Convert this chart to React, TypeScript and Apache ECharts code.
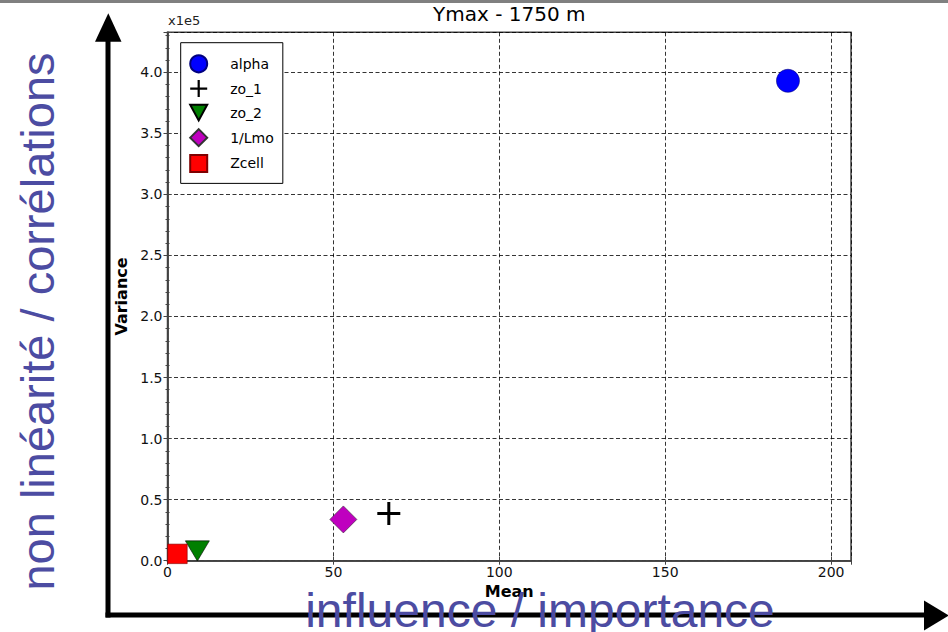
import React, { useEffect, useRef } from "react";
import * as echarts from "echarts";

// ---- data ----
const seriesNames = ["alpha", "zo_1", "zo_2", "1/Lmo", "Zcell"];
const meanValues = [187, 66.7, 9.0, 53.0, 3.0];
const varianceValues = [393000, 38700, 8000, 33800, 5600];
const xTickValues = [0, 50, 100, 150, 200];
const yTickValues = [0, 50000, 100000, 150000, 200000, 250000, 300000, 350000, 400000];
const xMax = 206;
const yMax = 432700;
const titleText = "Ymax - 1750 m";
const xAxisName = "Mean";
const yAxisName = "Variance";
const scaleText = "x1e5";
const bigYText = "non linéarité / corrélations";
const bigXText = "influence / importance";

const seriesStyles = [
  { symbol: "circle", size: 23, color: "#0000ff", border: "#00007f" },
  { symbol: "path://M10,0h3v23h-3zM0,10h23v3h-23z", size: 23, color: "#000000", border: "#000000" },
  { symbol: "path://M0,0L24,0L12,22Z", size: [24, 22], color: "#007f00", border: "#000000" },
  { symbol: "diamond", size: 27, color: "#bf00bf", border: "#333333" },
  { symbol: "rect", size: 19.5, color: "#ff0000", border: "#7f0000" },
];

const FONT = "DejaVu Sans";
const BIG_FONT = "Liberation Sans";
const BLUE = "#4c4ca2";

export default function App() {
  const ref = useRef<HTMLDivElement>(null);
  useEffect(() => {
    if (!ref.current) return;
    const chart = echarts.init(ref.current, null, { renderer: "svg" });
    const isTick = (arr: number[], v: number) => arr.some((t) => Math.abs(t - v) < 1e-6);
    const axisLineStyle = { color: "#444", width: 1.5 };
    const splitStyle = { color: "#000", width: 0.8, type: [4, 2.5] as any };

    const series = seriesNames.map((name, i) => ({
      name,
      type: "scatter",
      data: [[meanValues[i], varianceValues[i]]],
      symbol: seriesStyles[i].symbol,
      symbolSize: seriesStyles[i].size,
      symbolKeepAspect: true,
      itemStyle: {
        color: seriesStyles[i].color,
        borderColor: seriesStyles[i].border,
        borderWidth: i === 1 ? 0 : 0.6,
        opacity: 1,
      },
      z: 3,
    }));

    const option: any = {
      animation: false,
      backgroundColor: "#ffffff",
      grid: {
        left: 167.5,
        right: 97,
        top: 32.3,
        bottom: 71.3,
        show: true,
        backgroundColor: "#ffffff",
        borderColor: "#444",
        borderWidth: 1.5,
      },
      legend: {
        orient: "vertical",
        left: 180.7,
        top: 42.7,
        itemWidth: 17,
        itemHeight: 17,
        itemGap: 6.75,
        padding: [11.6, 9, 10.5, 8.5],
        backgroundColor: "#ffffff",
        borderColor: "#000",
        borderWidth: 1,
        borderRadius: 0,
        textStyle: { fontFamily: FONT, fontSize: 14, color: "#000", padding: [0, 0, 0, 18] },
        data: seriesNames,
      },
      xAxis: [
        {
          type: "value",
          min: 0,
          max: xMax,
          interval: 50,
          position: "bottom",
          name: xAxisName,
          nameLocation: "middle",
          nameGap: 21,
          nameTextStyle: { fontFamily: FONT, fontSize: 16, fontWeight: "bold", color: "#000" },
          axisLine: { show: true, lineStyle: axisLineStyle },
          axisTick: { show: true, inside: true, length: 4, lineStyle: { color: "#444" } },
          axisLabel: {
            margin: 4,
            fontFamily: FONT,
            fontSize: 14,
            color: "#111",
            formatter: (v: number) => (isTick(xTickValues, v) ? String(v) : ""),
          },
          splitLine: { show: true, lineStyle: splitStyle },
        },
        {
          type: "value",
          min: 0,
          max: xMax,
          interval: 50,
          position: "top",
          axisLine: { show: true, lineStyle: axisLineStyle },
          axisTick: { show: true, inside: true, length: 4, lineStyle: { color: "#444" } },
          axisLabel: { show: false },
          splitLine: { show: false },
        },
      ],
      yAxis: [
        {
          type: "value",
          min: 0,
          max: yMax,
          interval: 50000,
          position: "left",
          name: yAxisName,
          nameLocation: "middle",
          nameRotate: 90,
          nameGap: 34,
          nameTextStyle: { fontFamily: FONT, fontSize: 16, fontWeight: "bold", color: "#000" },
          axisLine: { show: true, lineStyle: axisLineStyle },
          axisTick: { show: true, inside: true, length: 4, lineStyle: { color: "#444" } },
          minorTick: { show: true, splitNumber: 5, length: 2, lineStyle: { color: "#444" } },
          axisLabel: {
            margin: 5,
            fontFamily: FONT,
            fontSize: 14,
            color: "#111",
            formatter: (v: number) => (isTick(yTickValues, v) ? (v / 1e5).toFixed(1) : ""),
          },
          splitLine: { show: true, lineStyle: splitStyle },
        },
        {
          type: "value",
          min: 0,
          max: yMax,
          interval: 50000,
          position: "right",
          axisLine: { show: true, lineStyle: axisLineStyle },
          axisTick: { show: true, inside: true, length: 4, lineStyle: { color: "#444" } },
          minorTick: { show: true, splitNumber: 5, length: 2, lineStyle: { color: "#444" } },
          axisLabel: { show: false },
          splitLine: { show: false },
        },
      ],
      series,
      graphic: [
        { type: "rect", shape: { x: 0, y: 0, width: 948, height: 3 }, style: { fill: "#808080" }, z: 10 },
        {
          type: "text",
          x: 509.3,
          y: 13.5,
          style: { text: titleText, fontFamily: FONT, fontSize: 20, fill: "#000", align: "center", verticalAlign: "middle" },
          z: 10,
        },
        {
          type: "text",
          x: 168,
          y: 20,
          style: { text: scaleText, fontFamily: FONT, fontSize: 13, fill: "#222", align: "left", verticalAlign: "middle" },
          z: 10,
        },
        // big arrows
        { type: "line", shape: { x1: 108, y1: 617.5, x2: 108, y2: 38 }, style: { stroke: "#000", lineWidth: 5 }, z: 10 },
        { type: "polygon", shape: { points: [[95, 41.7], [121.5, 41.7], [108.3, 13.3]] }, style: { fill: "#000" }, z: 10 },
        { type: "line", shape: { x1: 105.5, y1: 615, x2: 926, y2: 615 }, style: { stroke: "#000", lineWidth: 5 }, z: 10 },
        { type: "polygon", shape: { points: [[924, 600.5], [924, 630.5], [949, 615.5]] }, style: { fill: "#000" }, z: 10 },
        // big blue texts
        {
          type: "text",
          x: 540,
          y: 634,
          style: { text: bigXText, fontFamily: BIG_FONT, fontSize: 48, fill: BLUE, align: "center", verticalAlign: "bottom" },
          z: 20,
        },
        {
          type: "text",
          x: 37,
          y: 321.5,
          rotation: Math.PI / 2,
          style: { text: bigYText, fontFamily: BIG_FONT, fontSize: 47, fill: BLUE, align: "center", verticalAlign: "middle" },
          z: 20,
        },
      ],
    };
    chart.setOption(option);
    return () => chart.dispose();
  }, []);
  return (
    <div
      ref={ref}
      style={{ position: "fixed", left: 0, top: 0, width: 948, height: 632, background: "#fff" }}
    />
  );
}
